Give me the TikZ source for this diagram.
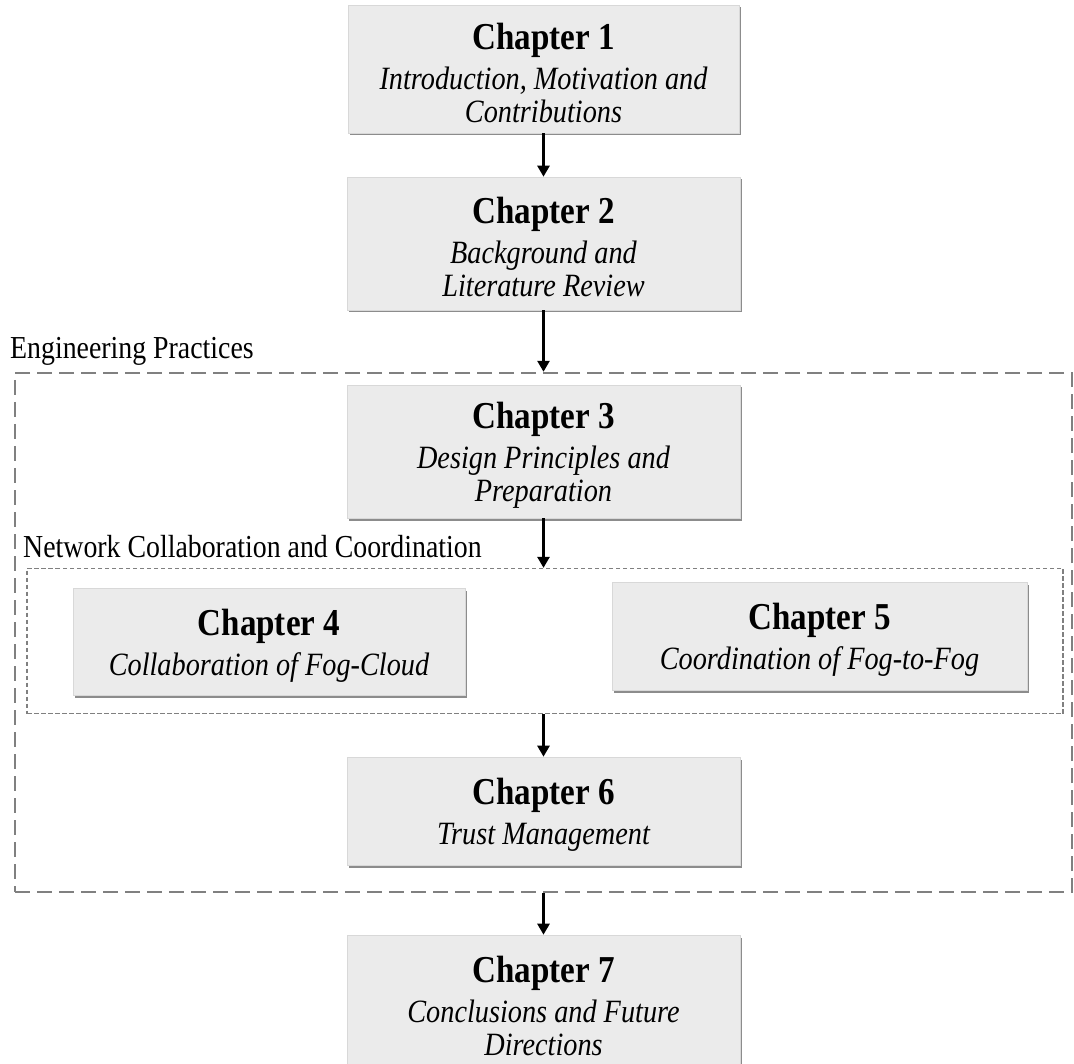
\documentclass[tikz,border=0pt]{standalone}
\usepackage{fontspec}
\setmainfont[FakeStretch=0.87]{Liberation Serif}
\usetikzlibrary{shadows,arrows.meta}

\definecolor{boxfill}{HTML}{EBEBEB}
\definecolor{boxedge}{HTML}{D8D8D8}
\definecolor{groupline}{HTML}{808080}

\tikzset{
  chapbox/.style={
    rectangle, fill=boxfill, draw=boxedge, line width=0.6pt, inner sep=0pt,
    drop shadow={shadow xshift=1.5pt, shadow yshift=-2.5pt, fill=black, opacity=0.45}
  },
  chaptext/.style={
    align=center, inner sep=0pt, yshift=-4pt,
    font=\fontsize{32.5}{33}\selectfont\itshape
  },
  flow/.style={draw=black, line width=2.6pt, -{Triangle[length=11pt,width=12pt]}},
  outergroup/.style={draw=groupline, line width=2.4pt, dash pattern=on 15pt off 7pt},
  innergroup/.style={draw=groupline, line width=1.3pt, dash pattern=on 4.5pt off 2.5pt},
  grouplabel/.style={anchor=base west, inner sep=0pt, font=\fontsize{32}{36}\selectfont},
}
\newcommand{\chaptitle}[1]{{\upshape\bfseries\fontsize{38}{40}\selectfont #1}\\[7pt]}

\begin{document}
\begin{tikzpicture}[x=1pt, y=-1pt]
  \useasboundingbox (0,0) rectangle (1074,1064);

  % group frames
  \node[outergroup, minimum width=1057pt, minimum height=519pt, inner sep=0pt] (eng) at (543.5,632.5) {};
  \node[innergroup, minimum width=1036pt, minimum height=145pt, inner sep=0pt] (net) at (545,641) {};
  \node[grouplabel] (englabel) at (10,359) {Engineering Practices};
  \node[grouplabel] (netlabel) at (23,557) {Network Collaboration and Coordination};

  % chapter boxes
  \node[chapbox, minimum width=391pt, minimum height=128pt] (c1) at (543.5,69) {};
  \node[chapbox, minimum width=393pt, minimum height=133pt] (c2) at (543.5,243.5) {};
  \node[chapbox, minimum width=393pt, minimum height=133pt] (c3) at (543.5,451.5) {};
  \node[chapbox, minimum width=392pt, minimum height=107pt] (c4) at (269,641.5) {};
  \node[chapbox, minimum width=415pt, minimum height=108pt] (c5) at (819.5,636) {};
  \node[chapbox, minimum width=393pt, minimum height=108pt] (c6) at (543.5,811) {};
  \node[chapbox, minimum width=393pt, minimum height=133pt] (c7) at (543.5,1001.5) {};

  % chapter titles
  \node[chaptext] (t1) at (c1) {\chaptitle{Chapter 1} Introduction, Motivation and\\ Contributions};
  \node[chaptext] (t2) at (c2) {\chaptitle{Chapter 2} Background and\\ Literature Review};
  \node[chaptext] (t3) at (c3) {\chaptitle{Chapter 3} Design Principles and\\ Preparation};
  \node[chaptext] (t4) at (c4) {\chaptitle{Chapter 4} Collaboration of Fog-Cloud};
  \node[chaptext] (t5) at (c5) {\chaptitle{Chapter 5} Coordination of Fog-to-Fog};
  \node[chaptext] (t6) at (c6) {\chaptitle{Chapter 6} Trust Management};
  \node[chaptext] (t7) at (c7) {\chaptitle{Chapter 7} Conclusions and Future\\ Directions};

  % reading order
  \draw[flow] (c1.south) -- (c2.north);
  \draw[flow] (c2.south) -- (c2.south |- eng.north);
  \draw[flow] (c3.south) -- (c3.south |- net.north);
  \draw[flow] (c6.north |- net.south) -- (c6.north);
  \draw[flow] (c7.north |- eng.south) -- (c7.north);
\end{tikzpicture}
\end{document}
